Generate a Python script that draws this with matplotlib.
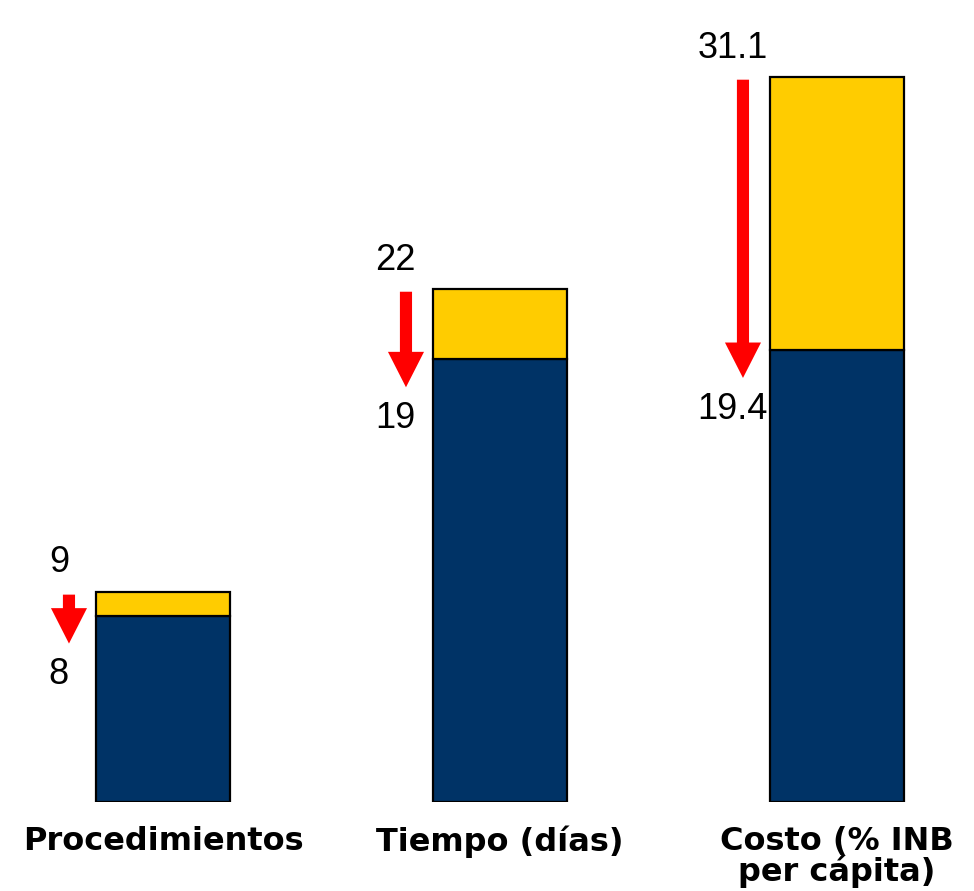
import matplotlib.pyplot as plt

categories = ["Procedimientos", "Tiempo (días)", "Costo (% INB\nper cápita)"]
before = [9, 22, 31.1]     # valor anterior (amarillo)
after = [8, 19, 19.4]      # valor actual (azul)
before_labels = ["9", "22", "31.1"]
after_labels = ["8", "19", "19.4"]

navy = "#003366"
gold = "#FFCC00"

fig = plt.figure(figsize=(9.74, 8.91), dpi=100)
ax = fig.add_axes([0, 89 / 891, 1, 802 / 891])

x = list(range(len(categories)))
ax.bar(x, after, width=0.4, color=navy, edgecolor="black", linewidth=1.6)
ax.bar(x, [b - a for a, b in zip(after, before)], bottom=after, width=0.4,
       color=gold, edgecolor="black", linewidth=1.6)

# flechas rojas y etiquetas a la izquierda de cada barra
for i in x:
    ax_x = i - 0.279
    top = before[i] - 0.1
    tip = after[i] - 1.2
    ax.arrow(ax_x, top, 0, tip - top, width=0.036, head_width=0.107,
             head_length=1.52, length_includes_head=True, color="red",
             linewidth=0)
    ax.text(ax_x - 0.03, before[i] + 0.85, before_labels[i], ha="center",
            va="baseline", fontsize=26, family="Liberation Sans")
    ax.text(ax_x - 0.03, after[i] - 2.95, after_labels[i], ha="center",
            va="baseline", fontsize=26, family="Liberation Sans")

ax.set_xlim(-163 / 337, (974 - 163) / 337)
ax.set_ylim(0, 802 / 23.3)
ax.set_xticks(x)
ax.set_xticklabels(categories, fontsize=23, fontweight="bold",
                   family="DejaVu Sans", linespacing=0.95)
ax.tick_params(axis="x", length=0, pad=17)
ax.set_yticks([])
for s in ax.spines.values():
    s.set_visible(False)

fig.savefig("out.png", dpi=100)
